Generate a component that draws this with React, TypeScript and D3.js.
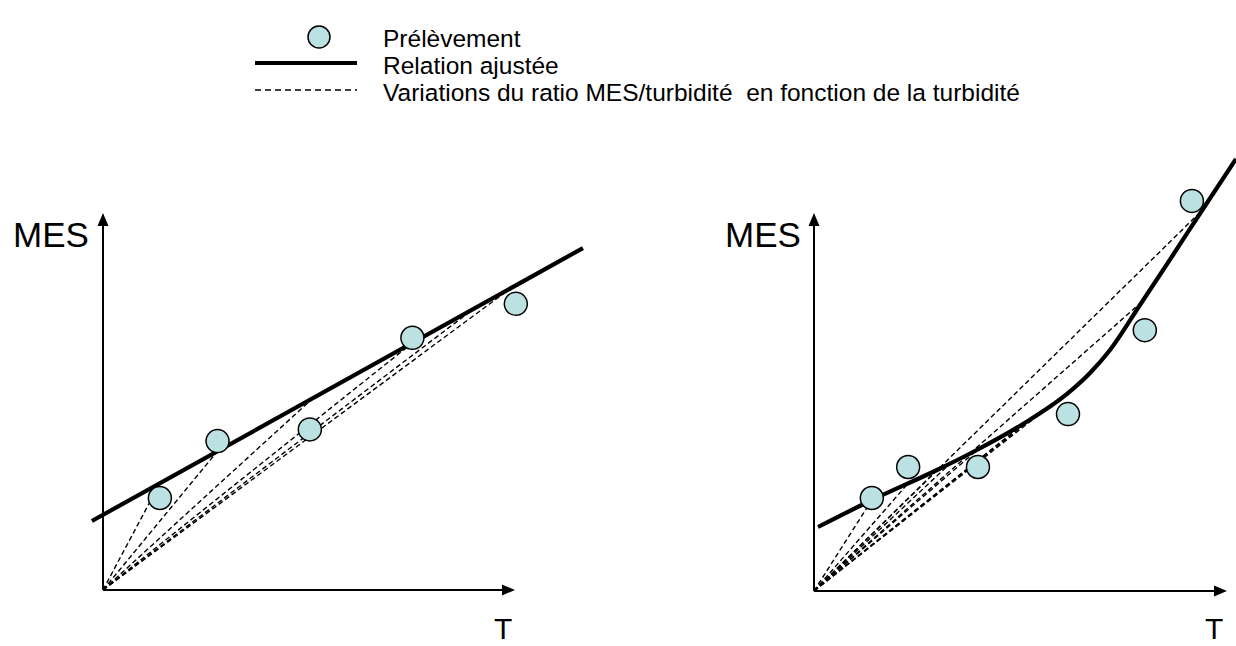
import React from "react";
import * as d3 from "d3";

// ---------- Data ----------
// Left panel: linear relation
const leftPointsT = [13.8, 27.8, 50.2, 75.1, 100.2];
const leftPointsMES = [24.4, 39.5, 42.6, 66.9, 75.9];
const leftFitT = [-2.7, 116.5];
const leftFitMES = [18.3, 90.7];
const leftRatioT = [13.8, 27.8, 51, 75.1, 90, 99];

// Right panel: curved relation
const rightPointsT = [14.0, 22.8, 39.7, 61.5, 80.1, 91.5];
const rightPointsMES = [24.6, 32.8, 32.8, 46.8, 69.0, 103.2];
const rightFitT = [0.97, 14.04, 29.78, 38.98, 50.61, 61.26, 66.83, 71.67, 78.93, 86.92, 94.19, 102.18];
const rightFitMES = [16.93, 24.07, 32.01, 37.04, 44.18, 52.12, 57.67, 63.76, 75.66, 88.89, 101.06, 114.29];
const rightRatioT = [14.0, 22.8, 29.8, 33, 39.7, 51, 54, 58, 79.5, 94];

// Labels
const yLabel = "MES";
const xLabel = "T";
const legendLabels = [
  "Prélèvement",
  "Relation ajustée",
  "Variations du ratio MES/turbidité  en fonction de la turbidité",
];

const FONT = "'Liberation Sans', Arial, Helvetica, sans-serif";
const FILL = "#bce1e3";

type PanelProps = {
  xRange: [number, number];
  yRange: [number, number];
  pT: number[];
  pM: number[];
  fT: number[];
  fM: number[];
  rT: number[];
  curved: boolean;
  mesX: number;
  tX: number;
};

function Panel({ xRange, yRange, pT, pM, fT, fM, rT, curved, mesX, tX }: PanelProps) {
  const x = d3.scaleLinear().domain([0, 100]).range(xRange);
  const y = d3.scaleLinear().domain([0, 100]).range(yRange);
  const fitInterp = d3.scaleLinear().domain(fT).range(fM);

  const fitData = fT.map((t, i) => [t, fM[i]] as [number, number]);
  const line = d3
    .line<[number, number]>()
    .x((d) => x(d[0]))
    .y((d) => y(d[1]))
    .curve(curved ? d3.curveMonotoneX : d3.curveLinear);

  const x0 = x(0);
  const y0 = y(0);
  const xEnd = x(100);
  const yEnd = y(100);

  return (
    <g>
      {/* axes */}
      <line x1={x0} y1={y0} x2={xEnd - 10} y2={y0} stroke="#000" strokeWidth={2} />
      <path d={`M${xEnd},${y0} L${xEnd - 13},${y0 - 5.5} L${xEnd - 13},${y0 + 5.5} Z`} fill="#000" />
      <line x1={x0} y1={y0} x2={x0} y2={yEnd + 10} stroke="#000" strokeWidth={2} />
      <path d={`M${x0},${yEnd} L${x0 - 5.5},${yEnd + 13} L${x0 + 5.5},${yEnd + 13} Z`} fill="#000" />

      {/* ratio lines */}
      {rT.map((t, i) => (
        <line
          key={i}
          x1={x0}
          y1={y0}
          x2={x(t)}
          y2={y(fitInterp(t))}
          stroke="#000"
          strokeWidth={1.4}
          strokeDasharray="5,3"
        />
      ))}

      {/* fitted relation */}
      <path d={line(fitData) || ""} fill="none" stroke="#000" strokeWidth={4.2} />

      {/* samples */}
      {pT.map((t, i) => (
        <circle key={i} cx={x(t)} cy={y(pM[i])} r={11.5} fill={FILL} stroke="#000" strokeWidth={1.5} />
      ))}

      {/* labels */}
      <text x={mesX} y={247} fontFamily={FONT} fontSize={35} fill="#000">
        {yLabel}
      </text>
      <text x={tX} y={639} fontFamily={FONT} fontSize={30} fill="#000">
        {xLabel}
      </text>
    </g>
  );
}

export default function App() {
  const legendX1 = 255;
  const legendX2 = 357;
  const textX = 383;
  return (
    <svg
      width={1236}
      height={646}
      viewBox="0 0 1236 646"
      style={{ position: "absolute", left: 0, top: 0, background: "#fff" }}
    >
      <rect x={0} y={0} width={1236} height={646} fill="#fff" />
      {/* legend */}
      <circle cx={319} cy={37} r={11} fill={FILL} stroke="#000" strokeWidth={1.5} />
      <line x1={legendX1} y1={63} x2={legendX2} y2={63} stroke="#000" strokeWidth={4.2} />
      <line x1={legendX1} y1={90} x2={legendX2} y2={90} stroke="#000" strokeWidth={1.5} strokeDasharray="6,4" />
      {legendLabels.map((s, i) => (
        <text key={i} x={textX} y={47 + i * 27} fontFamily={FONT} fontSize={24.5} fill="#000" xmlSpace="preserve">
          {s}
        </text>
      ))}

      <Panel
        xRange={[103, 515]}
        yRange={[590, 213]}
        pT={leftPointsT}
        pM={leftPointsMES}
        fT={leftFitT}
        fM={leftFitMES}
        rT={leftRatioT}
        curved={false}
        mesX={13}
        tX={494}
      />
      <Panel
        xRange={[814, 1227]}
        yRange={[591, 213]}
        pT={rightPointsT}
        pM={rightPointsMES}
        fT={rightFitT}
        fM={rightFitMES}
        rT={rightRatioT}
        curved={true}
        mesX={725}
        tX={1205}
      />
    </svg>
  );
}
